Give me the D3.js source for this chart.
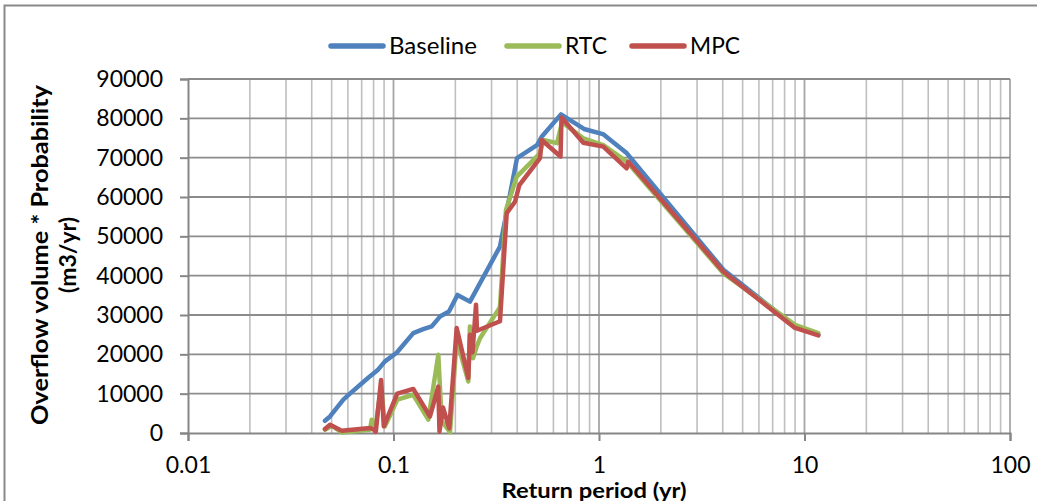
<!DOCTYPE html>
<html><head><meta charset="utf-8">
<script src="https://cdn.jsdelivr.net/npm/d3@7"></script>
<style>
html,body{margin:0;padding:0;background:#fff;}
svg{display:block;font-family:Lato, "Open Sans", sans-serif;}
</style></head>
<body><svg id="c" width="1037" height="501"></svg>
<script>
// ---- data ----
const seriesNames = ["Baseline", "RTC", "MPC"];
const seriesColors = ["#4F81BD", "#9BBB59", "#C0504D"];

const baselineT = [0.0464,0.0491,0.0570,0.0614,0.0751,0.0841,0.0909,0.1036,0.1248,0.1396,0.1535,0.1683,0.1862,0.2048,0.2355,0.3297,0.399,0.499,0.526,0.653,0.845,1.045,1.367,4.03,8.99,11.67];
const baselineV = [3100,4200,8500,10000,14000,16100,18200,20400,25400,26400,27100,29600,30900,35100,33400,47400,69900,73200,75300,81000,77300,76000,71100,41500,27100,25000];

const rtcT = [0.0464,0.0500,0.0560,0.0769,0.0783,0.0813,0.0870,0.0909,0.1043,0.1248,0.1477,0.1652,0.1716,0.1884,0.2030,0.2312,0.2355,0.2438,0.2541,0.2636,0.3297,0.3526,0.398,0.516,0.536,0.625,0.661,0.839,1.049,1.364,4.03,8.99,11.67];
const rtcV = [840,1850,150,840,3380,600,11800,1700,8460,9730,3400,19900,3000,200,23700,13100,27100,19000,22000,24100,32000,56700,65200,71100,74500,73700,79000,74900,73200,69000,40600,27500,25400];

const mpcT = [0.0464,0.0491,0.0560,0.0769,0.0804,0.0820,0.0870,0.0897,0.1043,0.1248,0.1505,0.1652,0.1674,0.1741,0.1868,0.2030,0.2312,0.2355,0.2424,0.2521,0.2548,0.3297,0.3555,0.3902,0.4095,0.5164,0.5262,0.6497,0.6570,0.8388,1.0493,1.3636,1.3884,4.03,8.99,11.67];
const mpcV = [1000,2100,600,1270,840,300,13500,1700,10000,11200,4200,11800,400,6500,1200,26700,14000,25000,20500,32600,26000,28400,55900,58800,63000,69900,74500,70300,80200,73800,72800,67300,69000,41000,26700,24800];

const yTicks = [0,10000,20000,30000,40000,50000,60000,70000,80000,90000];
const xTicks = [0.01,0.1,1,10,100];
const xTickLabels = ["0.01","0.1","1","10","100"];

// ---- layout ----
const svg = d3.select("#c");
const L = 188, R = 1010, T = 79, B = 433;
const x = d3.scaleLog().domain([0.01,100]).range([L,R]);
const y = d3.scaleLinear().domain([0,90000]).range([B,T]);

// outer border
svg.append("rect").attr("x",4.5).attr("y",5.5).attr("width",1050).attr("height",520)
  .attr("fill","none").attr("stroke","#898989").attr("stroke-width",2);

// minor vertical gridlines
const minor = [];
for (let d=-2; d<2; d++) for (let k=2;k<=9;k++) minor.push(k*Math.pow(10,d));
svg.append("g").selectAll("line").data(minor).join("line")
  .attr("x1",d=>x(d)).attr("x2",d=>x(d)).attr("y1",T).attr("y2",B)
  .attr("stroke","#BFBFBF").attr("stroke-width",1.6);
// major vertical gridlines
svg.append("g").selectAll("line").data(xTicks.slice(1)).join("line")
  .attr("x1",d=>x(d)).attr("x2",d=>x(d)).attr("y1",T).attr("y2",B)
  .attr("stroke","#A6A6A6").attr("stroke-width",1.8);
// horizontal gridlines
svg.append("g").selectAll("line").data(yTicks.slice(1)).join("line")
  .attr("x1",L).attr("x2",R).attr("y1",d=>y(d)).attr("y2",d=>y(d))
  .attr("stroke","#8C8C8C").attr("stroke-width",1.8);

// axes
const yAxis = d3.axisLeft(y).tickValues(yTicks).tickFormat(d3.format("d")).tickSize(8).tickPadding(17);
const gy = svg.append("g").attr("transform",`translate(${L},0)`).call(yAxis);
const xAxis = d3.axisBottom(x).tickValues(xTicks).tickFormat((d,i)=>xTickLabels[i]).tickSize(8).tickPadding(16);
const gx = svg.append("g").attr("transform",`translate(0,${B})`).call(xAxis);
[gx,gy].forEach(g=>{
  g.select(".domain").attr("stroke","#868686").attr("stroke-width",2);
  g.selectAll(".tick line").attr("stroke","#868686").attr("stroke-width",2);
  g.selectAll("text").attr("fill","#000").style("font-size","23px").style("font-family","Lato, sans-serif");
});

// series
const series = [
  {name:seriesNames[0], color:seriesColors[0], data:baselineT.map((t,i)=>[t,baselineV[i]])},
  {name:seriesNames[1], color:seriesColors[1], data:rtcT.map((t,i)=>[t,rtcV[i]])},
  {name:seriesNames[2], color:seriesColors[2], data:mpcT.map((t,i)=>[t,mpcV[i]])}
];
const line = d3.line().x(d=>x(d[0])).y(d=>y(d[1]));
svg.append("g").selectAll("path").data(series).join("path")
  .attr("d",d=>line(d.data)).attr("fill","none").attr("stroke",d=>d.color)
  .attr("stroke-width",4.5).attr("stroke-linejoin","round").attr("stroke-linecap","round");

// legend
const legX = [331, 507, 632];
const legW = [88, 42, 50];
const lg = svg.append("g");
series.forEach((s,i)=>{
  lg.append("line").attr("x1",legX[i]).attr("x2",legX[i]+52).attr("y1",46).attr("y2",46)
    .attr("stroke",s.color).attr("stroke-width",5.5).attr("stroke-linecap","round");
  lg.append("text").attr("x",legX[i]+58).attr("y",46).attr("dy","0.35em")
    .attr("textLength",legW[i]).attr("lengthAdjust","spacingAndGlyphs")
    .style("font-size","23px").text(s.name);
});

// axis titles
svg.append("text").attr("x",594).attr("y",498).attr("text-anchor","middle")
  .attr("textLength",185).attr("lengthAdjust","spacingAndGlyphs")
  .style("font-size","21px").style("font-weight","bold").text("Return period (yr)");
const yt = svg.append("text").attr("transform","translate(48,255) rotate(-90)").attr("text-anchor","middle")
  .style("font-size","22px").style("font-weight","bold");
yt.append("tspan").attr("x",0).attr("dy",0).attr("textLength",340).attr("lengthAdjust","spacingAndGlyphs").text("Overflow volume * Probability");
yt.append("tspan").attr("x",0).attr("dy",28).attr("textLength",76).attr("lengthAdjust","spacingAndGlyphs").text("(m3/yr)");
</script></body></html>
